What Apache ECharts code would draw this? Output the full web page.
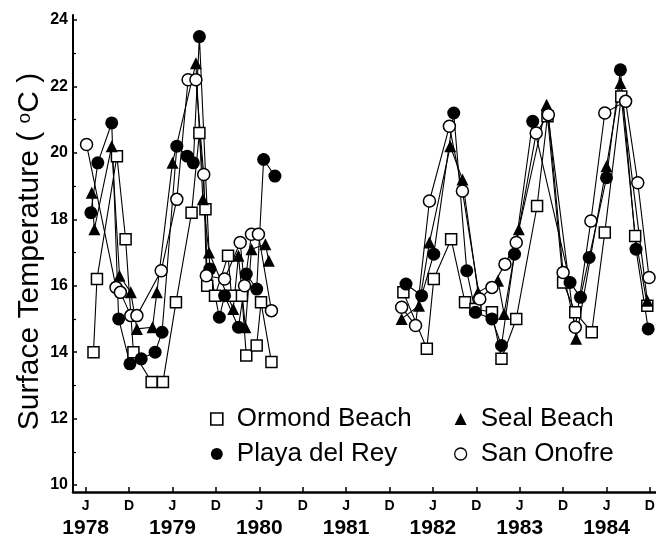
<!DOCTYPE html>
<html>
<head>
<meta charset="utf-8">
<script src="https://cdn.jsdelivr.net/npm/echarts@6/dist/echarts.min.js"></script>
<style>
  html, body { margin: 0; padding: 0; background: #fff; }
  #chart { width: 656px; height: 539px; }
</style>
</head>
<body>
<div id="chart"></div>
<script>
// Sampling dates as decimal years (null marks the 1980-81 break in sampling)
// and surface temperatures in degrees C, one pair of arrays per station.
const ormondT = [1978.59, 1978.63, 1978.86, 1978.96, 1979.05, 1979.26, 1979.39, 1979.54, 1979.72, 1979.81,
  1979.88, 1979.90, 1979.99, 1980.14, 1980.18, 1980.30, 1980.35, 1980.47, 1980.52, 1980.64, null,
  1982.16, 1982.43, 1982.51, 1982.71, 1982.87, 1982.99, 1983.18, 1983.29, 1983.46, 1983.70, 1983.82,
  1984.00, 1984.14, 1984.33, 1984.48, 1984.67, 1984.83, 1984.97];
const ormondV = [14.0, 16.2, 19.9, 17.4, 14.0, 13.1, 13.1, 15.5, 18.2, 20.6,
  18.3, 16.0, 15.7, 16.9, 15.7, 15.7, 13.9, 14.2, 15.5, 13.7, null,
  15.8, 14.1, 16.2, 17.4, 15.5, 15.3, 15.2, 13.8, 15.0, 18.4, 21.1,
  16.1, 15.2, 14.6, 17.6, 21.7, 17.5, 15.4];

const playaT = [1978.56, 1978.64, 1978.80, 1978.88, 1979.01, 1979.14, 1979.30, 1979.38, 1979.55, 1979.67,
  1979.74, 1979.81, 1979.93, 1980.04, 1980.10, 1980.26, 1980.35, 1980.47, 1980.55, 1980.68, null,
  1982.19, 1982.37, 1982.51, 1982.74, 1982.89, 1982.99, 1983.18, 1983.29, 1983.44, 1983.65,
  1984.08, 1984.20, 1984.30, 1984.50, 1984.66, 1984.84, 1984.98];
const playaV = [18.2, 19.7, 20.9, 15.0, 13.65, 13.8, 14.0, 14.6, 20.2, 19.9,
  19.7, 23.5, 16.5, 15.05, 15.7, 14.75, 16.35, 15.9, 19.8, 19.3, null,
  16.05, 15.7, 16.95, 21.2, 16.45, 15.2, 15.0, 14.2, 16.95, 20.95,
  16.1, 15.65, 16.85, 19.25, 22.5, 17.1, 14.7];

const sealT = [1978.57, 1978.60, 1978.80, 1978.89, 1979.02, 1979.09, 1979.27, 1979.32, 1979.50, 1979.77,
  1979.85, 1979.92, 1980.20, 1980.26, 1980.34, 1980.41, 1980.57, 1980.61, null,
  1982.14, 1982.34, 1982.46, 1982.70, 1982.84, 1983.02, 1983.25, 1983.32, 1983.49, 1983.81,
  1984.15, 1984.50, 1984.66, 1984.97];
const sealV = [18.8, 17.7, 20.2, 16.3, 15.8, 14.7, 14.75, 15.8, 19.7, 22.7,
  18.6, 17.0, 15.3, 16.9, 14.75, 17.1, 17.25, 16.75, null,
  15.0, 15.4, 17.3, 20.2, 19.2, 15.8, 16.15, 15.15, 17.7, 21.45,
  14.4, 19.6, 22.1, 15.55];

const onofreT = [1978.51, 1978.85, 1978.90, 1979.02, 1979.09, 1979.37, 1979.55, 1979.68, 1979.77, 1979.86,
  1979.89, 1980.10, 1980.28, 1980.33, 1980.41, 1980.49, 1980.64, null,
  1982.14, 1982.30, 1982.46, 1982.69, 1982.84, 1983.04, 1983.18, 1983.33, 1983.46, 1983.69, 1983.83,
  1984.00, 1984.14, 1984.32, 1984.48, 1984.72, 1984.86, 1984.99];
const onofreV = [20.25, 15.95, 15.8, 15.1, 15.1, 16.45, 18.6, 22.2, 22.2, 19.35,
  16.3, 16.2, 17.3, 16.0, 17.55, 17.55, 15.25, null,
  15.35, 14.8, 18.55, 20.8, 18.85, 15.6, 15.95, 16.65, 17.3, 20.6, 21.15,
  16.4, 14.75, 17.95, 21.2, 21.55, 19.1, 16.25];

// June (J) and December (D) ticks along the time axis
const monthTicks = [1978.5, 1979.0, 1979.5, 1980.0, 1980.5, 1981.0, 1981.5,
  1982.0, 1982.5, 1983.0, 1983.5, 1984.0, 1984.5, 1985.0];
const tempTicks = [10, 12, 14, 16, 18, 20, 22, 24];
const tempMinorTicks = [11, 13, 15, 17, 19, 21, 23];

const FONT = 'Liberation Sans, Arial, Helvetica, sans-serif';

function pairs(t, v) {
  return t.map((x, i) => (x === null || v[i] === null) ? ['-', '-'] : [x, v[i]]);
}

function station(name, t, v, symbol, size, filled) {
  return {
    name: name,
    type: 'line',
    data: pairs(t, v),
    connectNulls: false,
    symbol: symbol,
    symbolSize: size,
    showAllSymbol: true,
    lineStyle: { color: '#000', width: 1.1 },
    itemStyle: filled
      ? { color: '#000', borderColor: '#000', borderWidth: 0 }
      : { color: '#fff', borderColor: '#000', borderWidth: 1.5 },
    emphasis: { disabled: true },
    animation: false
  };
}

const chart = echarts.init(document.getElementById('chart'), null, { renderer: 'canvas' });

const legendText = { fontFamily: FONT, fontSize: 26, color: '#000', padding: [0, 0, 0, 9] };

chart.setOption({
  backgroundColor: '#fff',
  animation: false,
  grid: { left: 73, right: 0, top: 15, bottom: 47, containLabel: false, outerBoundsMode: 'none' },
  xAxis: {
    type: 'value',
    min: 1978.354,
    max: 1985.07,
    axisLine: { show: true, lineStyle: { color: '#000', width: 2.5 } },
    axisTick: { show: true, inside: true, length: 5, customValues: monthTicks, lineStyle: { color: '#000', width: 1.5 } },
    splitLine: { show: false },
    axisLabel: {
      customValues: monthTicks,
      margin: 5,
      color: '#000',
      fontFamily: FONT,
      formatter: function (v) {
        const yr = Math.floor(v + 1e-6);
        if (Math.abs(v - yr - 0.5) < 0.01) return '{m|J}\n{y|' + yr + '}';
        return '{m|D}';
      },
      rich: {
        m: { fontFamily: FONT, fontSize: 14, fontWeight: 'bold', lineHeight: 18, color: '#000' },
        y: { fontFamily: FONT, fontSize: 21, fontWeight: 'bold', lineHeight: 27, color: '#000' }
      }
    }
  },
  yAxis: [
    {
      type: 'value',
      min: 9.79,
      max: 24.15,
      name: 'Surface Temperature ( {s|o}C )',
      nameLocation: 'middle',
      nameGap: 28,
      nameMoveOverlap: false,
      nameTextStyle: {
        fontFamily: FONT, fontSize: 30, color: '#000', padding: [0, 0, 0, 4],
        rich: { s: { fontFamily: FONT, fontSize: 19, verticalAlign: 'top', color: '#000', padding: [0, 0, 10, 0] } }
      },
      axisLine: { show: true, lineStyle: { color: '#000', width: 2 } },
      axisTick: { show: true, inside: true, length: 4, customValues: tempTicks, lineStyle: { color: '#000', width: 1.5 } },
      splitLine: { show: false },
      axisLabel: {
        customValues: tempTicks,
        margin: 5,
        color: '#000',
        fontFamily: FONT,
        fontSize: 16,
        fontWeight: 'bold'
      }
    },
    {
      type: 'value',
      min: 9.79,
      max: 24.15,
      position: 'left',
      axisLine: { show: false },
      axisTick: { show: true, inside: true, length: 3, customValues: tempMinorTicks, lineStyle: { color: '#000', width: 1.2 } },
      axisLabel: { show: false, customValues: tempMinorTicks },
      splitLine: { show: false }
    }
  ],
  legend: [
    {
      orient: 'vertical',
      left: 205,
      top: 401,
      itemWidth: 12,
      itemHeight: 12,
      itemGap: 9,
      selectedMode: false,
      textStyle: legendText,
      data: [
        { name: 'Ormond Beach', icon: 'rect', itemStyle: { color: '#fff', borderColor: '#000', borderWidth: 1.6 } },
        { name: 'Playa del Rey', icon: 'circle', itemStyle: { color: '#000', borderWidth: 0 } }
      ]
    },
    {
      orient: 'vertical',
      left: 449,
      top: 401,
      itemWidth: 12,
      itemHeight: 12,
      itemGap: 9,
      selectedMode: false,
      textStyle: legendText,
      data: [
        { name: 'Seal Beach', icon: 'triangle', itemStyle: { color: '#000', borderWidth: 0 } },
        { name: 'San Onofre', icon: 'circle', itemStyle: { color: '#fff', borderColor: '#000', borderWidth: 1.3 } }
      ]
    }
  ],
  series: [
    station('Ormond Beach', ormondT, ormondV, 'rect', 11, false),
    station('Seal Beach', sealT, sealV, 'triangle', 12, true),
    station('Playa del Rey', playaT, playaV, 'circle', 13, true),
    station('San Onofre', onofreT, onofreV, 'circle', 12, false)
  ]
});
</script>
</body>
</html>
